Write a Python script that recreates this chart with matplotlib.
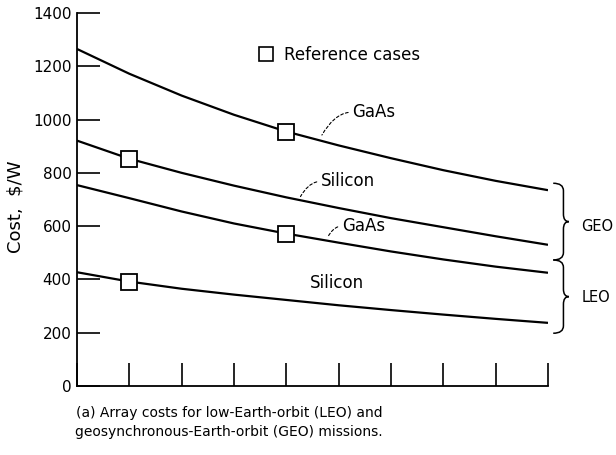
import matplotlib
matplotlib.use("Agg")
import matplotlib.pyplot as plt
from matplotlib.path import Path
from matplotlib.patches import PathPatch
from matplotlib.lines import Line2D

# values (cost in $/W at each x tick)
x_pos = [0, 1, 2, 3, 4, 5, 6, 7, 8, 9]
gaas_geo = [1265, 1172, 1090, 1018, 955, 903, 855, 810, 770, 735]
si_geo = [921, 853, 800, 752, 708, 668, 630, 596, 562, 530]
gaas_leo = [754, 705, 655, 610, 572, 538, 505, 475, 448, 425]
si_leo = [427, 392, 365, 343, 323, 303, 285, 268, 252, 237]
# index of the reference case on each curve
ref_idx = {"gaas_geo": 4, "si_geo": 1, "gaas_leo": 4, "si_leo": 1}

y_ticks = [0, 200, 400, 600, 800, 1000, 1200, 1400]

fig = plt.figure(figsize=(6.16, 4.55), dpi=100)
ax = fig.add_axes([77 / 616, 69 / 455, 471 / 616, 373 / 455])

series = {"gaas_geo": gaas_geo, "si_geo": si_geo, "gaas_leo": gaas_leo, "si_leo": si_leo}
for key, vals in series.items():
    ax.plot(x_pos, vals, color="black", lw=1.6, solid_capstyle="butt")
    i = ref_idx[key]
    ax.plot(x_pos[i], vals[i], "s", ms=11, mfc="white", mec="black", mew=1.3, zorder=3)

ax.set_xlim(0, 9)
ax.set_ylim(0, 1400)
ax.set_xticks(x_pos)
ax.set_xticklabels([])
ax.set_yticks(y_ticks)
ax.tick_params(direction="in", length=16.5, width=1.2, labelsize=11, pad=4)
for s in ["top", "right"]:
    ax.spines[s].set_visible(False)
for s in ["left", "bottom"]:
    ax.spines[s].set_linewidth(1.3)

ax.set_ylabel("Cost,  $/W", fontsize=13)
ax.yaxis.set_label_coords(-0.112, 0.48)

# legend
h = Line2D([], [], ls="none", marker="s", ms=9.5, mfc="white", mec="black", mew=1.2)
ax.legend(handles=[h], labels=["Reference cases"], frameon=False, fontsize=12,
          loc="center left", bbox_to_anchor=(0.365, 0.887), borderpad=0,
          handlelength=1.0, handletextpad=0.6)

# curve labels with dashed leaders
lead = dict(arrowstyle="-", linestyle=(0, (2.5, 2)), lw=0.8, relpos=(0, 0.5),
            connectionstyle="angle3,angleA=0,angleB=60", shrinkA=1, shrinkB=0)
ax.annotate("GaAs", xy=(4.68, 942), xytext=(5.26, 1028), ha="left", va="center",
            fontsize=12, arrowprops=lead)
ax.annotate("Silicon", xy=(4.27, 711), xytext=(4.66, 768), ha="left", va="center",
            fontsize=12, arrowprops=lead)
ax.annotate("GaAs", xy=(4.8, 562), xytext=(5.06, 600), ha="left", va="center",
            fontsize=12, arrowprops=lead)
ax.text(4.45, 387, "Silicon", ha="left", va="center", fontsize=12)


def brace(ax, y_top, y_bot, x0=9.10, w=0.30, h=28):
    xm = x0 + w * 0.65
    xt = x0 + w
    ym = (y_top + y_bot) / 2
    verts = [(x0, y_top), (xm, y_top), (xm, y_top - h),
             (xm, ym + h), (xm, ym), (xt, ym),
             (xm, ym), (xm, ym - h),
             (xm, y_bot + h), (xm, y_bot), (x0, y_bot)]
    codes = [Path.MOVETO, Path.CURVE3, Path.CURVE3,
             Path.LINETO, Path.CURVE3, Path.CURVE3,
             Path.CURVE3, Path.CURVE3,
             Path.LINETO, Path.CURVE3, Path.CURVE3]
    ax.add_patch(PathPatch(Path(verts, codes), fc="none", ec="black", lw=1.1,
                           clip_on=False))


brace(ax, 761, 473)
brace(ax, 473, 198)
ax.text(9.64, 600, "GEO", ha="left", va="center", fontsize=10.5, clip_on=False)
ax.text(9.64, 334, "LEO", ha="left", va="center", fontsize=10.5, clip_on=False)

fig.text(0.372, 0.072,
         "(a) Array costs for low-Earth-orbit (LEO) and\ngeosynchronous-Earth-orbit (GEO) missions.",
         ha="center", va="center", fontsize=10, linespacing=1.45)

fig.savefig("out.png", dpi=100, facecolor="white")
